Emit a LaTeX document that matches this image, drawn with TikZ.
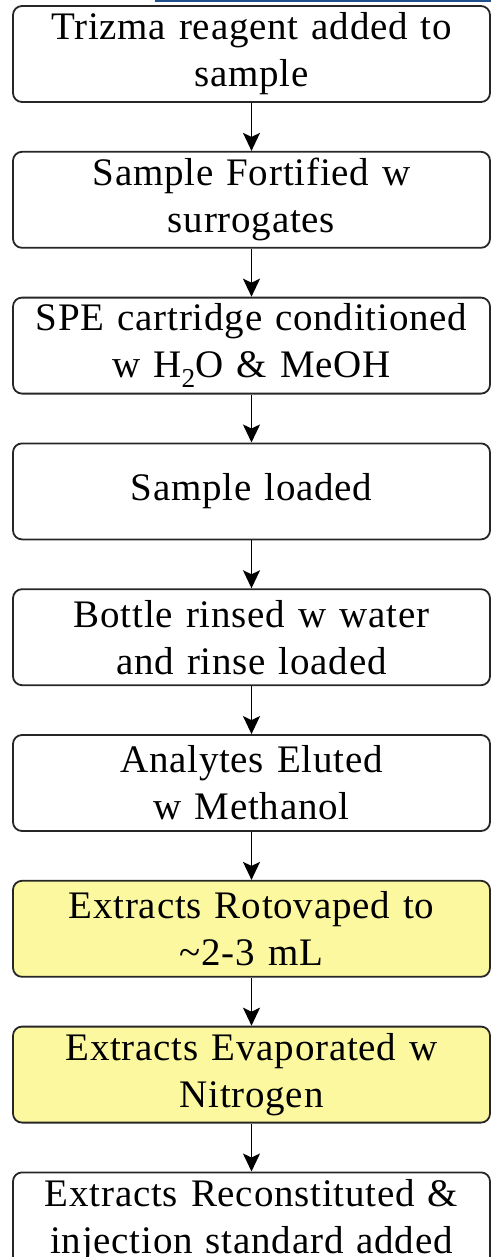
\documentclass[tikz,border=0pt]{standalone}
\usepackage{fontspec}
\setmainfont{Liberation Serif}[WordSpace=0.75,LetterSpace=2]
\usetikzlibrary{positioning,arrows.meta}
\definecolor{boxfill}{RGB}{252,248,160}
\definecolor{rulecol}{RGB}{31,78,140}
\begin{document}
\begin{tikzpicture}[
x=1pt,y=1pt,
node distance=48pt,
every node/.style={draw=black!85, line width=1.8pt, rounded corners=9pt,
  minimum width=477pt, minimum height=96pt, text width=474pt, align=center,
  inner sep=0pt, font=\fontsize{39}{47}\selectfont},
yellowbox/.style={fill=boxfill},
flow/.style={line width=1.8pt, -{Stealth[length=18pt,width=17pt,inset=4pt]}}
]
\useasboundingbox (0,0) rectangle (491,-1257);
\draw[rulecol, line width=2pt] (155,-1) -- (491,-1);

\node (trizma) at (251.5,-54) {Trizma reagent added to\\sample};
\node (fortify) [below=of trizma] {Sample Fortified w\\surrogates};
\node (spe) [below=of fortify] {SPE cartridge conditioned\\w H\textsubscript{2}O \& MeOH};
\node (load) [below=of spe] {Sample loaded};
\node (rinse) [below=of load] {Bottle rinsed w water\\and rinse loaded};
\node (elute) [below=of rinse] {Analytes Eluted\\w Methanol};
\node (roto) [yellowbox, below=of elute] {Extracts Rotovaped to\\\textasciitilde2-3 mL};
\node (evap) [yellowbox, below=of roto] {Extracts Evaporated w\\Nitrogen};
\node (recon) [below=of evap] {Extracts Reconstituted \&\\injection standard added};

\draw[flow] (trizma) -- (fortify);
\draw[flow] (fortify) -- (spe);
\draw[flow] (spe) -- (load);
\draw[flow] (load) -- (rinse);
\draw[flow] (rinse) -- (elute);
\draw[flow] (elute) -- (roto);
\draw[flow] (roto) -- (evap);
\draw[flow] (evap) -- (recon);
\end{tikzpicture}
\end{document}
